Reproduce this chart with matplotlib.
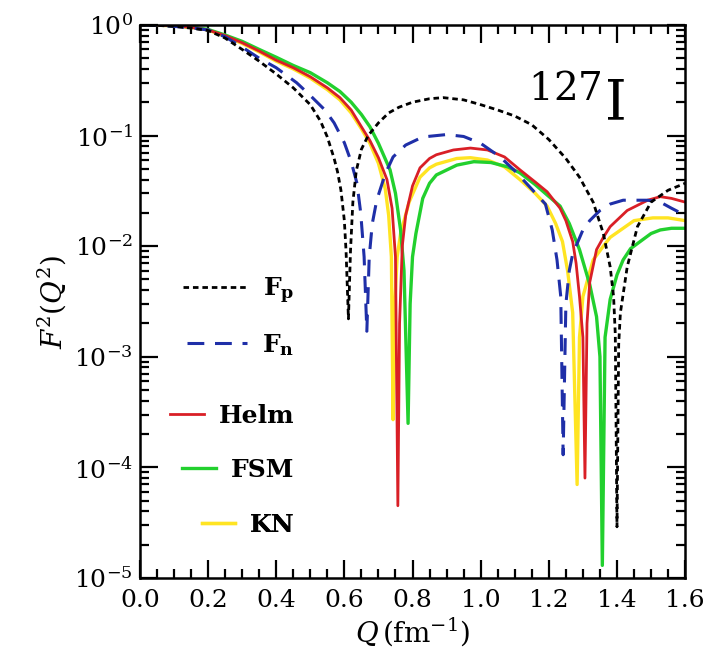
import matplotlib
matplotlib.use("Agg")
import matplotlib.pyplot as plt

plt.rcParams['font.family'] = ['DejaVu Serif']
plt.rcParams['mathtext.fontset'] = 'dejavuserif'

# values: Q (fm^-1) and F^2(Q^2)
q_fp = [0.0, 0.05, 0.1, 0.15, 0.2, 0.25, 0.3, 0.35, 0.4, 0.45, 0.5, 0.53, 0.55, 0.57, 0.58,
        0.59, 0.60, 0.605, 0.612, 0.618, 0.625, 0.635, 0.65, 0.67, 0.70, 0.73, 0.76, 0.80,
        0.85, 0.89, 0.95, 1.00, 1.05, 1.10, 1.15, 1.20, 1.25, 1.29, 1.33, 1.36, 1.38, 1.39,
        1.395, 1.40, 1.405, 1.41, 1.43, 1.46, 1.50, 1.55, 1.60]
f_fp = [1.0, 0.99, 0.97, 0.935, 0.89, 0.76, 0.60, 0.47, 0.36, 0.27, 0.19, 0.135, 0.097, 0.062, 0.047,
        0.032, 0.017, 0.009, 2.2e-3, 0.009, 0.025, 0.048, 0.075, 0.10, 0.13, 0.16, 0.18, 0.20,
        0.215, 0.22, 0.21, 0.19, 0.17, 0.15, 0.125, 0.092, 0.062, 0.042, 0.025, 0.013, 6.5e-3, 3.5e-3,
        1.6e-3, 2.9e-5, 1.3e-3, 2.5e-3, 6.5e-3, 0.015, 0.025, 0.032, 0.037]

q_fn = [0.0, 0.05, 0.1, 0.15, 0.2, 0.25, 0.3, 0.35, 0.4, 0.46, 0.5, 0.543, 0.57, 0.60, 0.62,
        0.637, 0.648, 0.658, 0.666, 0.673, 0.682, 0.695, 0.72, 0.743, 0.78, 0.83, 0.9, 0.95,
        1.0, 1.057, 1.10, 1.145, 1.19, 1.21, 1.224, 1.235, 1.242, 1.25, 1.26, 1.27, 1.30, 1.32,
        1.35, 1.38, 1.418, 1.45, 1.49, 1.527, 1.56, 1.60]
f_fn = [1.0, 0.99, 0.97, 0.94, 0.9, 0.78, 0.63, 0.50, 0.41, 0.30, 0.23, 0.17, 0.13, 0.086, 0.058,
        0.037, 0.02, 0.008, 1.7e-3, 0.008, 0.016, 0.026, 0.045, 0.064, 0.082, 0.097, 0.102, 0.098,
        0.085, 0.064, 0.048, 0.034, 0.024, 0.014, 7.5e-3, 3.5e-3, 1.3e-4, 3e-3, 6e-3, 8.5e-3, 0.014, 0.017,
        0.021, 0.024, 0.026, 0.026, 0.026, 0.025, 0.022, 0.019]

q_helm = [0.0, 0.05, 0.1, 0.15, 0.2, 0.25, 0.3, 0.35, 0.4, 0.45, 0.5, 0.55, 0.587, 0.62, 0.65,
          0.675, 0.70, 0.725, 0.74, 0.75, 0.757, 0.762, 0.77, 0.78, 0.80, 0.822, 0.85, 0.87,
          0.92, 0.97, 1.02, 1.07, 1.115, 1.16, 1.195, 1.233, 1.25, 1.27, 1.28, 1.29, 1.30,
          1.306, 1.312, 1.32, 1.34, 1.36, 1.38, 1.43, 1.49, 1.527, 1.56, 1.60]
f_helm = [1.0, 0.995, 0.98, 0.95, 0.9, 0.8, 0.69, 0.58, 0.48, 0.41, 0.34, 0.27, 0.22, 0.17, 0.12,
          0.09, 0.063, 0.04, 0.022, 0.008, 4.5e-5, 2e-3, 0.01, 0.019, 0.035, 0.051, 0.062, 0.067,
          0.074, 0.077, 0.074, 0.064, 0.049, 0.038, 0.031, 0.022, 0.017, 0.011, 0.007, 3.5e-3, 1.5e-3,
          8e-5, 2e-3, 4.7e-3, 9.3e-3, 0.012, 0.015, 0.021, 0.026, 0.028, 0.027, 0.025]

q_fsm = [0.0, 0.05, 0.1, 0.15, 0.2, 0.25, 0.3, 0.35, 0.4, 0.45, 0.5, 0.55, 0.587, 0.62, 0.65,
         0.675, 0.70, 0.734, 0.75, 0.765, 0.775, 0.787, 0.793, 0.80, 0.81, 0.83, 0.85, 0.87,
         0.93, 0.98, 1.03, 1.08, 1.115, 1.16, 1.195, 1.233, 1.26, 1.29, 1.32, 1.34, 1.35,
         1.357, 1.365, 1.38, 1.40, 1.418, 1.44, 1.468, 1.50, 1.527, 1.56, 1.60]
f_fsm = [1.0, 0.995, 0.985, 0.955, 0.91, 0.81, 0.71, 0.6, 0.51, 0.43, 0.37, 0.3, 0.25, 0.2, 0.155,
         0.12, 0.085, 0.049, 0.03, 0.014, 0.006, 2.5e-4, 0.003, 0.008, 0.013, 0.027, 0.037, 0.044,
         0.054, 0.058, 0.057, 0.052, 0.046, 0.036, 0.029, 0.023, 0.016, 9.3e-3, 4.5e-3, 2.3e-3, 1e-3,
         1.3e-5, 1.5e-3, 3.3e-3, 5.5e-3, 7.5e-3, 9.5e-3, 0.011, 0.013, 0.014, 0.0145, 0.0145]

q_kn = [0.0, 0.05, 0.1, 0.15, 0.2, 0.25, 0.3, 0.35, 0.4, 0.45, 0.5, 0.55, 0.587, 0.62, 0.65,
        0.675, 0.70, 0.72, 0.73, 0.738, 0.743, 0.748, 0.755, 0.765, 0.79, 0.822, 0.85, 0.87,
        0.93, 0.97, 1.02, 1.07, 1.115, 1.16, 1.195, 1.22, 1.24, 1.255, 1.27, 1.283, 1.29, 1.30,
        1.33, 1.36, 1.38, 1.45, 1.505, 1.55, 1.60]
f_kn = [1.0, 0.995, 0.98, 0.95, 0.9, 0.79, 0.68, 0.57, 0.47, 0.40, 0.33, 0.26, 0.21, 0.16, 0.115,
        0.085, 0.056, 0.033, 0.019, 0.008, 2.7e-4, 0.003, 0.008, 0.013, 0.025, 0.042, 0.051, 0.055,
        0.062, 0.063, 0.06, 0.052, 0.04, 0.03, 0.023, 0.016, 0.011, 6e-3, 2.5e-3, 7e-5, 1.5e-3, 3.5e-3,
        7.5e-3, 0.010, 0.012, 0.017, 0.018, 0.018, 0.017]

fig = plt.figure(figsize=(7.1, 6.55), dpi=100)
ax = fig.add_axes([0.197, 0.1176, 0.768, 0.8444])

l_kn, = ax.plot(q_kn, f_kn, color='#ffe422', lw=2.4)
l_fsm, = ax.plot(q_fsm, f_fsm, color='#22d02e', lw=2.4)
l_helm, = ax.plot(q_helm, f_helm, color='#d91f26', lw=2.0)
l_fn, = ax.plot(q_fn, f_fn, color='#1f2fa8', lw=2.2, ls=(0, (5.5, 3.5)))
l_fp, = ax.plot(q_fp, f_fp, color='black', lw=2.0, ls=(0, (2.0, 1.4)))

ax.set_yscale('log')
ax.set_xlim(0, 1.6)
ax.set_ylim(1e-5, 1)
ax.set_xticks([0.0, 0.2, 0.4, 0.6, 0.8, 1.0, 1.2, 1.4, 1.6])
ax.set_xticklabels(['0.0', '0.2', '0.4', '0.6', '0.8', '1.0', '1.2', '1.4', '1.6'])
ax.xaxis.set_minor_locator(matplotlib.ticker.MultipleLocator(0.05))
ax.tick_params(which='both', direction='in', top=True, right=True, labelsize=18, width=1.6)
ax.tick_params(axis='x', pad=8)
ax.tick_params(axis='y', pad=5)
ax.tick_params(which='major', length=13)
ax.tick_params(which='minor', length=6.5)
for s in ax.spines.values():
    s.set_linewidth(1.8)

ax.set_xlabel(r'$Q\,(\mathrm{fm}^{-1})$', fontsize=20, labelpad=2)
ax.set_ylabel(r'$F^2(Q^2)$', fontsize=20, labelpad=4)
ax.text(0.712, 0.826, r'$^{127}\mathrm{I}$', transform=ax.transAxes, fontsize=40,
        va='baseline')

# one small legend per entry, stacked down the left side
entries = [(l_fp, r'$\mathbf{F_p}$', 0.519, 2.6),
           (l_fn, r'$\mathbf{F_n}$', 0.421, 2.4),
           (l_helm, 'Helm', 0.293, 1.35),
           (l_fsm, 'FSM', 0.195, 1.35),
           (l_kn, 'KN', 0.096, 1.3)]
for h, lab, yy, hl in entries:
    leg = ax.legend([h], [lab], loc='center right', bbox_to_anchor=(0.283, yy),
                    frameon=False, handlelength=hl, handletextpad=0.6, borderpad=0,
                    borderaxespad=0, prop={'size': 18, 'weight': 'bold'})
    ax.add_artist(leg)

fig.savefig('out.png', dpi=100)
